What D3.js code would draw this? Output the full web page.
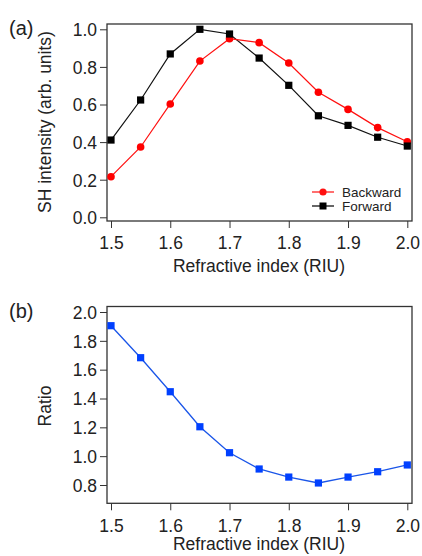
<!DOCTYPE html>
<html>
<head>
<meta charset="utf-8">
<script src="https://cdn.jsdelivr.net/npm/d3@7"></script>
<style>
  body { margin: 0; background: #fff; }
  svg { display: block; font-family: "Liberation Sans", Arial, sans-serif; }
  .tick text { font-size: 17.5px; fill: #222; }
</style>
</head>
<body>
<div id="chart"></div>
<script>
const indices = [1.5, 1.55, 1.6, 1.65, 1.7, 1.75, 1.8, 1.85, 1.9, 1.95, 2.0];
const backward = [0.216, 0.374, 0.603, 0.831, 0.950, 0.929, 0.821, 0.665, 0.574, 0.477, 0.402];
const forward = [0.411, 0.624, 0.869, 1.0, 0.975, 0.847, 0.702, 0.540, 0.489, 0.426, 0.379];
const ratio = [1.905, 1.683, 1.447, 1.204, 1.024, 0.911, 0.855, 0.814, 0.855, 0.892, 0.939];
const xTicks = [1.5, 1.6, 1.7, 1.8, 1.9, 2.0];
const yTicksA = [0, 0.2, 0.4, 0.6, 0.8, 1.0];
const yTicksB = [0.8, 1.0, 1.2, 1.4, 1.6, 1.8, 2.0];

const width = 422;
const height = 556;

const svg = d3.select("#chart")
    .append("svg")
    .attr("width", width)
    .attr("height", height);

const x = d3.scaleLinear().domain([1.5, 2.0]).range([111, 407.3]);

function panel(opts) {
    const g = svg.append("g");
    const y = d3.scaleLinear().domain(opts.yDomain).range(opts.yRange);

    g.append("rect")
        .attr("x", 107).attr("y", opts.top)
        .attr("width", 412 - 107).attr("height", opts.bottom - opts.top)
        .attr("fill", "none").attr("stroke", "#333").attr("stroke-width", 1.3);

    const xAxis = g.append("g")
        .attr("transform", `translate(0,${opts.bottom})`)
        .call(d3.axisBottom(x).tickValues(xTicks).tickSize(7).tickPadding(9).tickFormat(d3.format(".1f")));
    xAxis.select(".domain").remove();
    xAxis.selectAll("line").attr("stroke", "#333");

    const yAxis = g.append("g")
        .attr("transform", "translate(107,0)")
        .call(d3.axisLeft(y).tickValues(opts.yTicks).tickSize(7).tickPadding(3).tickFormat(d3.format(".1f")));
    yAxis.select(".domain").remove();
    yAxis.selectAll("line").attr("stroke", "#333");
    yAxis.selectAll("text").attr("dy", "0.36em");

    g.append("text")
        .attr("x", 259).attr("y", opts.xTitleY)
        .attr("text-anchor", "middle")
        .attr("font-size", 17.5).attr("fill", "#222")
        .text("Refractive index (RIU)");

    g.append("text")
        .attr("transform", `translate(51,${opts.yTitleCenter}) rotate(-90)`)
        .attr("text-anchor", "middle")
        .attr("font-size", 17.5).attr("fill", "#222")
        .text(opts.yTitle);

    g.append("text")
        .attr("x", 9).attr("y", opts.top + 11)
        .attr("font-size", 20).attr("fill", "#222")
        .text(opts.label);

    return y;
}

// (a)
const yA = panel({
    top: 24, bottom: 221, yDomain: [0, 1], yRange: [217.3, 29.3], xTitleY: 272,
    yTicks: yTicksA, yTitle: "SH intensity (arb. units)", yTitleCenter: 122, label: "(a)"
});

const lineA = d3.line().x((d, i) => x(indices[i])).y(d => yA(d));

svg.append("path").datum(forward)
    .attr("d", lineA).attr("fill", "none").attr("stroke", "#111").attr("stroke-width", 1.2);
svg.append("path").datum(backward)
    .attr("d", lineA).attr("fill", "none").attr("stroke", "#ff1010").attr("stroke-width", 1.2);

svg.selectAll(".bw").data(backward).enter().append("circle")
    .attr("cx", (d, i) => x(indices[i])).attr("cy", d => yA(d))
    .attr("r", 3.8).attr("fill", "#ff0000");

svg.selectAll(".fw").data(forward).enter().append("rect")
    .attr("x", (d, i) => x(indices[i]) - 3.6).attr("y", d => yA(d) - 3.6)
    .attr("width", 7.2).attr("height", 7.2).attr("fill", "#000");

// legend
const legend = svg.append("g");
const legendItems = [
    { name: "Backward", color: "#ff1010", shape: "circle" },
    { name: "Forward", color: "#000", shape: "square" }
];
legendItems.forEach((item, i) => {
    const ly = 192 + i * 14;
    legend.append("line")
        .attr("x1", 312).attr("x2", 334).attr("y1", ly).attr("y2", ly)
        .attr("stroke", item.color).attr("stroke-width", 1.2);
    if (item.shape === "circle") {
        legend.append("circle").attr("cx", 323).attr("cy", ly).attr("r", 3.6).attr("fill", item.color);
    } else {
        legend.append("rect").attr("x", 319.5).attr("y", ly - 3.5).attr("width", 7).attr("height", 7).attr("fill", item.color);
    }
    legend.append("text")
        .attr("x", 342).attr("y", ly + 4.5)
        .attr("font-size", 13.5).attr("fill", "#222")
        .text(item.name);
});

// (b)
const yB = panel({
    top: 306.5, bottom: 503.3, yDomain: [0.8, 2.0], yRange: [485, 312], xTitleY: 550,
    yTicks: yTicksB, yTitle: "Ratio", yTitleCenter: 406, label: "(b)"
});

const lineB = d3.line().x((d, i) => x(indices[i])).y(d => yB(d));

svg.append("path").datum(ratio)
    .attr("d", lineB).attr("fill", "none").attr("stroke", "#1a55e8").attr("stroke-width", 1.3);

svg.selectAll(".rt").data(ratio).enter().append("rect")
    .attr("x", (d, i) => x(indices[i]) - 3.6).attr("y", d => yB(d) - 3.6)
    .attr("width", 7.2).attr("height", 7.2).attr("fill", "#0040ff");
</script>
</body>
</html>
